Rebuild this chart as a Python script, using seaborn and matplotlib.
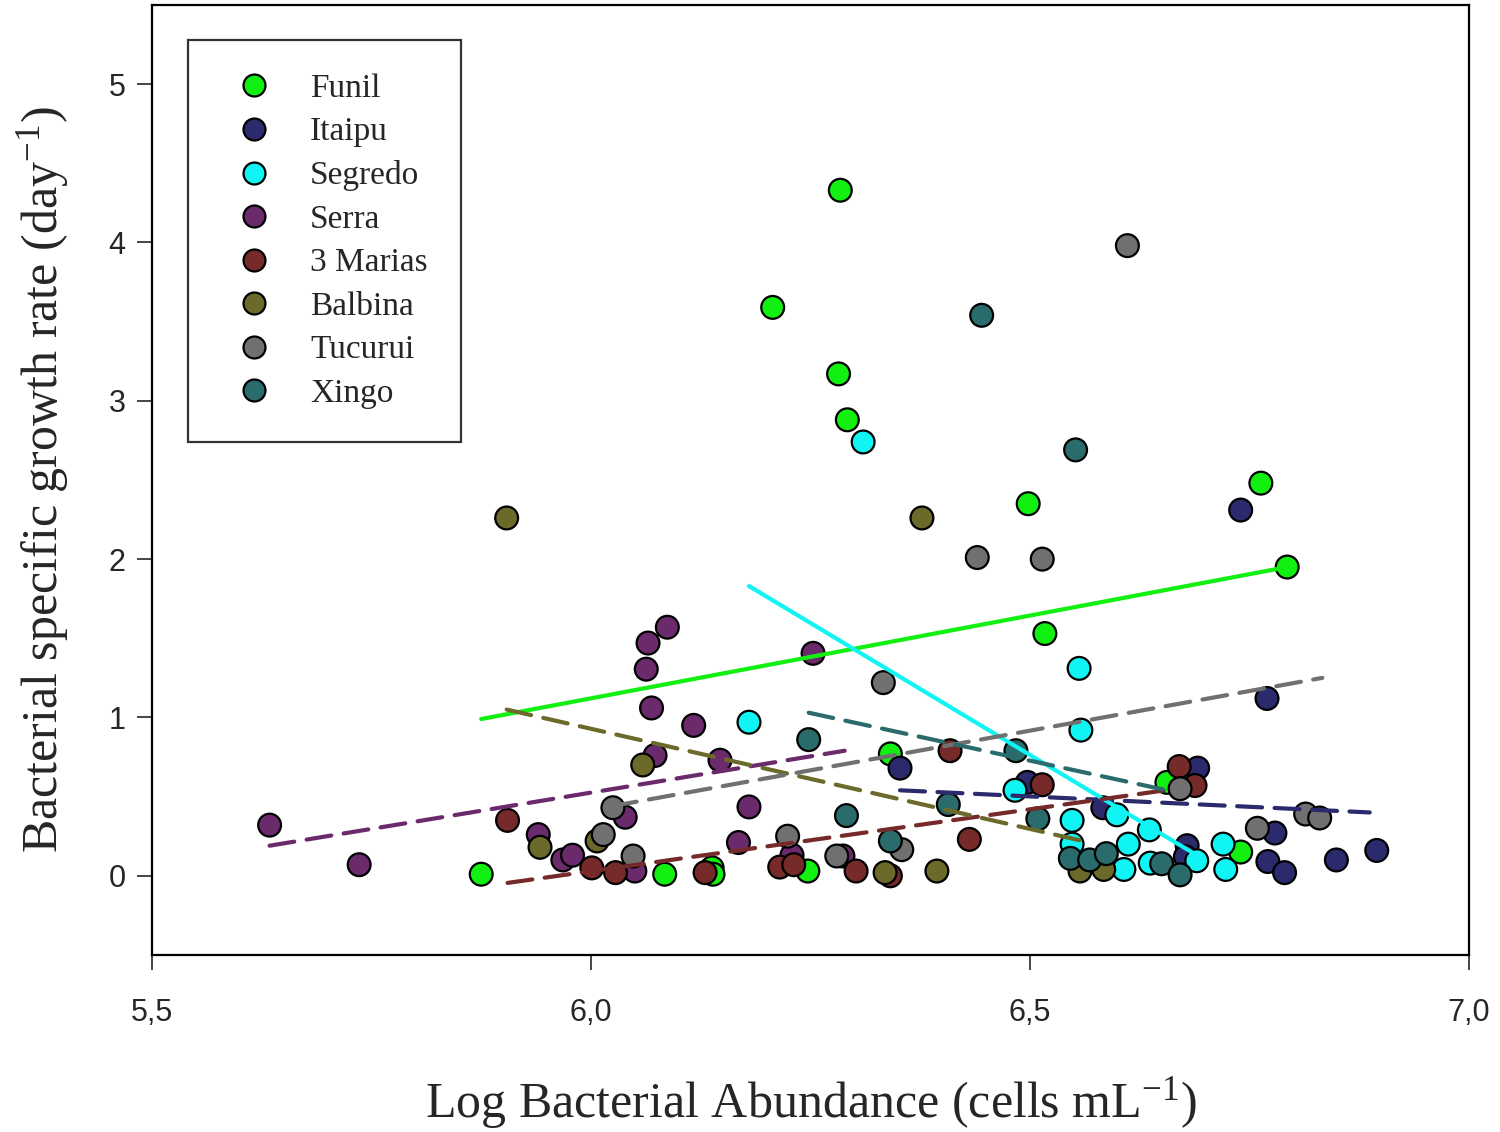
import numpy as np
import pandas as pd
import matplotlib
matplotlib.use('Agg')
import matplotlib.pyplot as plt
import seaborn as sns

# values
sites = ['Funil', 'Itaipu', 'Segredo', 'Serra', '3 Marias', 'Balbina', 'Tucurui', 'Xingo']
colors = ['#11f011', '#2a2a6c', '#10f4f4', '#6b2a6b', '#762a2a', '#6b6a2a', '#707070', '#2a6b6b']

funil_x = [6.284, 6.207, 6.282, 6.292, 6.498, 6.763, 6.793, 6.517, 6.341, 5.875, 6.084, 6.138, 6.139, 6.247, 6.656, 6.740]
funil_y = [4.33, 3.59, 3.17, 2.88, 2.35, 2.48, 1.95, 1.53, 0.77, 0.01, 0.01, 0.05, 0.01, 0.03, 0.59, 0.15]

itaipu_x = [6.740, 6.770, 6.352, 6.497, 6.691, 6.583, 6.679, 6.677, 6.779, 6.771, 6.790, 6.849, 6.895]
itaipu_y = [2.31, 1.12, 0.68, 0.59, 0.68, 0.43, 0.19, 0.12, 0.27, 0.09, 0.02, 0.10, 0.16]

segredo_x = [6.310, 6.180, 6.556, 6.558, 6.483, 6.548, 6.548, 6.599, 6.612, 6.607, 6.636, 6.637, 6.690, 6.720, 6.723]
segredo_y = [2.74, 0.97, 1.31, 0.92, 0.54, 0.35, 0.20, 0.385, 0.20, 0.04, 0.29, 0.08, 0.095, 0.20, 0.04]

serra_x = [5.634, 5.736, 6.065, 6.087, 6.063, 6.069, 6.117, 6.253, 6.073, 6.147, 6.180, 6.168, 6.039, 6.050, 6.229, 6.287, 5.940, 5.968, 5.979]
serra_y = [0.32, 0.07, 1.47, 1.57, 1.305, 1.06, 0.95, 1.405, 0.76, 0.73, 0.435, 0.21, 0.37, 0.03, 0.13, 0.125, 0.26, 0.10, 0.13]

marias_x = [5.905, 6.001, 6.028, 6.130, 6.215, 6.231, 6.302, 6.341, 6.409, 6.431, 6.514, 6.670, 6.688]
marias_y = [0.35, 0.05, 0.02, 0.02, 0.055, 0.07, 0.03, 0.0, 0.79, 0.23, 0.575, 0.69, 0.57]

balbina_x = [5.904, 6.377, 6.059, 5.942, 6.007, 6.335, 6.394, 6.557, 6.584]
balbina_y = [2.26, 2.26, 0.70, 0.18, 0.22, 0.02, 0.03, 0.03, 0.04]

tucurui_x = [6.611, 6.440, 6.514, 6.333, 6.025, 6.014, 6.048, 6.224, 6.280, 6.354, 6.671, 6.759, 6.814, 6.830]
tucurui_y = [3.98, 2.01, 2.00, 1.22, 0.43, 0.26, 0.125, 0.25, 0.125, 0.165, 0.55, 0.30, 0.39, 0.365]

xingo_x = [6.445, 6.552, 6.248, 6.484, 6.407, 6.291, 6.341, 6.509, 6.546, 6.568, 6.587, 6.650, 6.671]
xingo_y = [3.54, 2.69, 0.86, 0.79, 0.45, 0.38, 0.22, 0.36, 0.11, 0.10, 0.14, 0.076, 0.006]

# regression line end points (x0, x1), (y0, y1)
fit_x = [[5.875, 6.793], [6.352, 6.887], [6.180, 6.699], [5.634, 6.289],
         [5.905, 6.654], [5.904, 6.568], [6.024, 6.833], [6.248, 6.656]]
fit_y = [[0.99, 1.95], [0.54, 0.40], [1.83, 0.10], [0.19, 0.79],
         [-0.045, 0.54], [1.05, 0.21], [0.44, 1.25], [1.03, 0.54]]
fit_solid = [True, False, True, False, False, False, False, False]

x_ticks = [5.5, 6.0, 6.5, 7.0]
x_ticklabels = ['5,5', '6,0', '6,5', '7,0']
y_ticks = [0, 1, 2, 3, 4, 5]

xs = [funil_x, itaipu_x, segredo_x, serra_x, marias_x, balbina_x, tucurui_x, xingo_x]
ys = [funil_y, itaipu_y, segredo_y, serra_y, marias_y, balbina_y, tucurui_y, xingo_y]
df = pd.concat([pd.DataFrame({'x': x, 'y': y, 'site': s}) for s, x, y in zip(sites, xs, ys)],
               ignore_index=True)

sns.set_style('white')
plt.rcParams['mathtext.fontset'] = 'custom'
plt.rcParams['mathtext.rm'] = 'Liberation Serif'
plt.rcParams['mathtext.it'] = 'Liberation Serif'

fig = plt.figure(figsize=(15, 11.32), dpi=100)
ax = fig.add_axes([0.1013, 0.1564, 0.878, 0.8392])

sns.scatterplot(data=df, x='x', y='y', hue='site', hue_order=sites, palette=colors,
                s=270, edgecolor='black', linewidth=1.6, ax=ax, zorder=2)

for fx, fy, c, solid in zip(fit_x, fit_y, colors, fit_solid):
    if solid:
        ax.plot(fx, fy, color=c, lw=3, solid_capstyle='round', zorder=3)
    else:
        ax.plot(fx, fy, color=c, lw=3, dashes=(6, 3), dash_capstyle='round', zorder=3)

ax.set_xlim(5.5, 7.0)
ax.set_ylim(-0.5, 5.5)
ax.set_xticks(x_ticks)
ax.set_xticklabels(x_ticklabels)
ax.set_yticks(y_ticks)
ax.tick_params(axis='both', direction='out', length=11, width=1.2, labelsize=22,
               bottom=True, left=True, top=False, right=False)
ax.tick_params(axis='x', pad=20)
ax.tick_params(axis='y', pad=8)
for lab in ax.get_xticklabels() + ax.get_yticklabels():
    lab.set_fontfamily('Liberation Sans')
for sp in ax.spines.values():
    sp.set_linewidth(1.6)
    sp.set_color('black')

ax.set_xlabel(r'Log Bacterial Abundance (cells mL$^{\mathregular{-1}}$)',
              fontfamily='Liberation Serif', fontsize=36, labelpad=34)
ax.set_ylabel(r'Bacterial specific growth rate (day$^{\mathregular{-1}}$)',
              fontfamily='Liberation Serif', fontsize=36, labelpad=27)

leg = ax.legend(loc='upper left', bbox_to_anchor=(0.027, 0.963), frameon=True,
                fancybox=False, edgecolor='black', borderpad=1.0, labelspacing=0.39,
                handletextpad=0.68, borderaxespad=0, markerscale=1.0,
                prop={'family': 'Liberation Serif', 'size': 24})
leg.get_frame().set_linewidth(1.6)
for h in leg.legend_handles:
    h.set_markeredgecolor('black')
    h.set_markeredgewidth(1.6)
    h.set_markersize(15.8)

fig.savefig('out.png', dpi=100)
